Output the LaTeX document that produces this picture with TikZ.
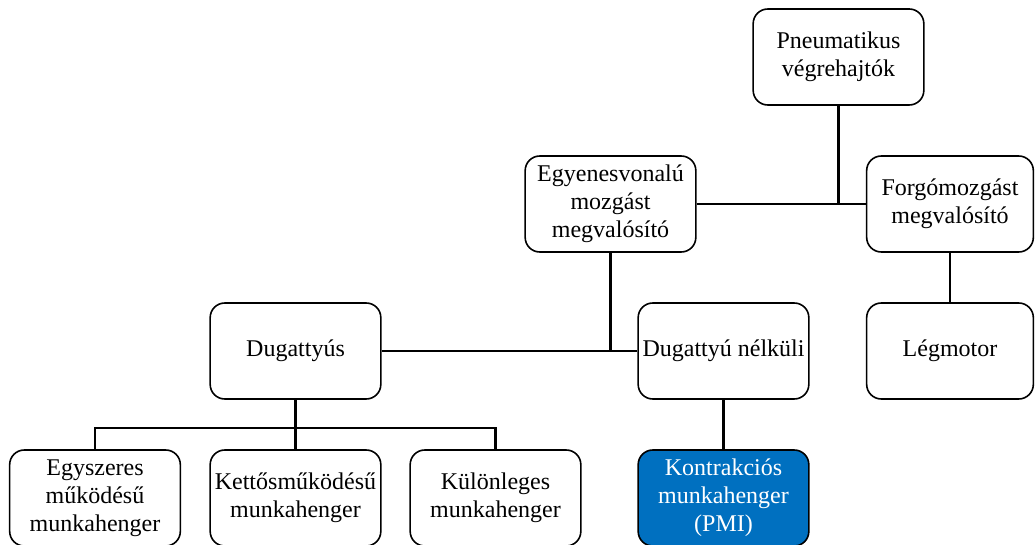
\documentclass[tikz,border=0pt]{standalone}
\usepackage{fontspec}
\setmainfont{Liberation Serif}
\usepackage{tikz}
\usetikzlibrary{calc}
\definecolor{pmiblue}{RGB}{0,112,192}
\tikzset{
  box/.style={draw, line width=1.2pt, rounded corners=11pt, align=center,
    minimum width=128pt, minimum height=72pt, inner sep=1pt,
    font=\fontsize{18}{21}\selectfont},
  link/.style={line width=1.9pt}
}
\begin{document}
\begin{tikzpicture}[x=0.75pt, y=-0.75pt]
\useasboundingbox (0,0) rectangle (1035,545);
\node[box] (pneu) at (838.5,57) {Pneumatikus\\végrehajtók};
\node[box] (egyen) at (610.5,204) {Egyenesvonalú\\mozgást\\megvalósító};
\node[box, minimum width=125pt] (forgo) at (950,204) {Forgómozgást\\megvalósító};
\node[box] (dug) at (295.5,351) {Dugattyús};
\node[box] (dugn) at (723.5,351) {Dugattyú nélküli};
\node[box, minimum width=125pt] (legm) at (950,351) {Légmotor};
\node[box] (egysz) at (95,498) {Egyszeres\\működésű\\munkahenger};
\node[box] (kett) at (295.5,498) {Kettősműködésű\\munkahenger};
\node[box] (kul) at (495.5,498) {Különleges\\munkahenger};
\node[box, fill=pmiblue, text=white] (kontr) at (723.5,498) {Kontrakciós\\munkahenger\\(PMI)};
\coordinate (fork) at (295.5,428);
\draw[link] (egyen) -- (forgo);
\draw[link] (pneu) -- (pneu |- egyen);
\draw[link] (dug) -- (dugn);
\draw[link] (egyen) -- (egyen |- dug);
\draw[link] (forgo) -- (legm);
\draw[link] (dugn) -- (kontr);
\draw[link] (dug) -- (kett);
\draw[link] (egysz.north) -- (egysz.north |- fork) -- (kul.north |- fork) -- (kul.north);
\end{tikzpicture}
\end{document}
